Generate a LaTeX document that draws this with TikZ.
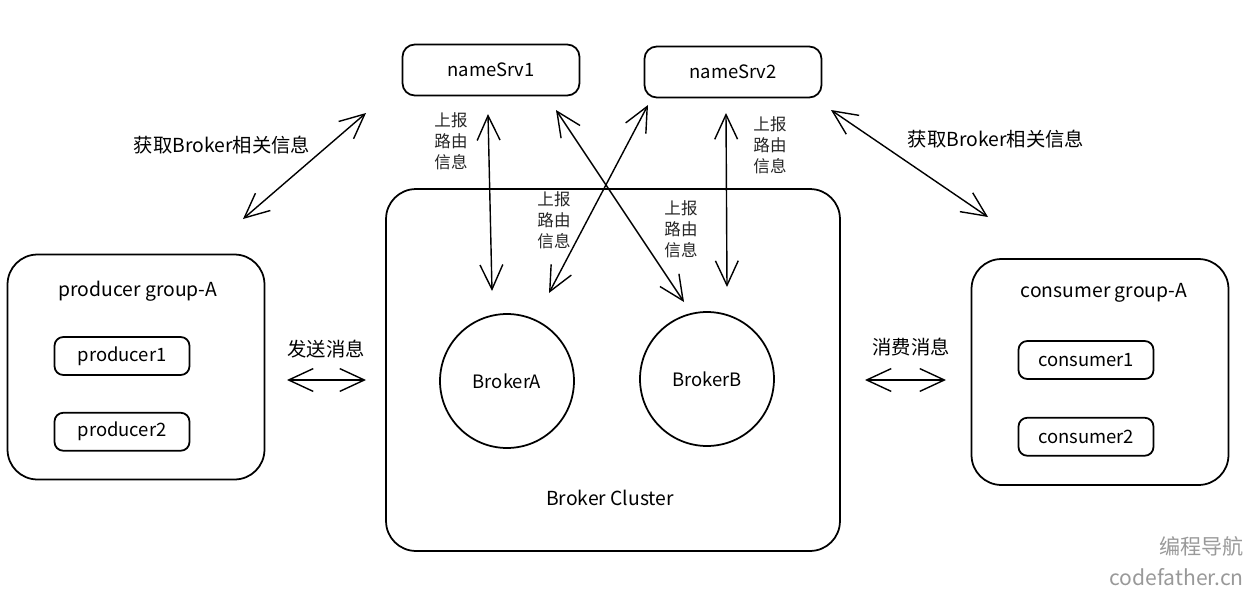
\documentclass[tikz,border=0pt]{standalone}
\usepackage{fontspec}
\setmainfont{Noto Sans CJK SC}
\usepackage{tikz}
\usetikzlibrary{arrows.meta}
\usetikzlibrary{positioning}
\tikzset{>={Straight Barb[length=14pt,width=13pt]}}
\usepackage{xcolor}
\colorlet{markgray}{black!40}
\tikzstyle{group}=[draw,line width=1pt,rounded corners=17pt]
\def\txt{\fontsize{10.5}{12}\selectfont}
\def\bigtxt{\fontsize{11}{13}\selectfont}
\def\smalltxt{\fontsize{9.4}{12}\selectfont}

\begin{document}
\begin{tikzpicture}[x=0.02cm,y=-0.02cm,
	srv/.style={draw, line width=1pt, rounded corners=7pt, minimum width=3.54cm, minimum height=1.02cm, font=\txt},
	member/.style={draw, line width=1pt, rounded corners=5pt, minimum width=2.7cm, minimum height=0.76cm, font=\txt},
	broker/.style={circle, draw, line width=1pt, minimum size=2.68cm, font=\txt},
	link/.style={<->, line width=0.8pt},
	note/.style={font=\smalltxt, align=center, inner sep=0pt, text=black!85},
	]
	\useasboundingbox (0,0) rectangle (1259,599);
	
	% name servers
	\node[srv] (ns1) at (491,70) {nameSrv1};
	\node[srv] (ns2) at (733,72) {nameSrv2};
	
	% broker cluster
	\node[group, minimum width=9.08cm, minimum height=7.24cm] (cluster) at (613,370) {};
	\node[font=\bigtxt] (clusterlbl) at (610,498) {Broker Cluster};
	\node[broker] (brokerA) at (507,381) {BrokerA};
	\node[broker] (brokerB) at (707,379) {BrokerB};
	
	% producers
	\node[group, minimum width=5.14cm, minimum height=4.5cm] (pgroup) at (136,367) {};
	\node[font=\bigtxt] (plbl) at (138,291) {producer group-A};
	\node[member] (p1) at (122,356) {producer1};
	\node[member, below=0.72cm of p1] (p2) {producer2};
	
	% consumers
	\node[group, minimum width=5.14cm, minimum height=4.52cm] (cgroup) at (1100,372) {};
	\node[font=\bigtxt] (clbl) at (1104,293) {consumer group-A};
	\node[member] (c1) at (1086,360) {consumer1};
	\node[member, below=0.74cm of c1] (c2) {consumer2};
	
	% arrow ends
	\coordinate (sendL) at (287,380);
	\coordinate (sendR) at (366,380);
	\coordinate (consL) at (865,380);
	\coordinate (consR) at (946,380);
	\coordinate (infoP) at (243,219);
	\coordinate (infoN1) at (366,113);
	\coordinate (infoN2) at (831,110);
	\coordinate (infoC) at (988,217);
	\coordinate (up1s) at (488,114);
	\coordinate (up1b) at (492,291);
	\coordinate (up2s) at (556,110);
	\coordinate (up2b) at (684,302);
	\coordinate (up3s) at (648,105);
	\coordinate (up3b) at (549,293);
	\coordinate (up4s) at (726,113);
	\coordinate (up4b) at (727,287);
	
	\draw[link] (sendL) -- (sendR);
	\draw[link] (consL) -- (consR);
	\draw[link] (infoP) -- (infoN1);
	\draw[link] (infoN2) -- (infoC);
	\draw[link] (up1s) -- (up1b);
	\draw[link] (up2s) -- (up2b);
	\draw[link] (up3s) -- (up3b);
	\draw[link] (up4s) -- (up4b);
	
	% labels
	\node[font=\bigtxt] (sendlbl) at (326,349) {发送消息};
	\node[font=\bigtxt] (conslbl) at (911,347) {消费消息};
	\node[font=\bigtxt] (infolblL) at (222,145) {获取Broker相关信息};
	\node[font=\bigtxt] (infolblR) at (996,139) {获取Broker相关信息};
	\node[note] (rep1) at (451,141) {上报\\路由\\信息};
	\node[note] (rep2) at (554,220) {上报\\路由\\信息};
	\node[note] (rep3) at (681,229) {上报\\路由\\信息};
	\node[note] (rep4) at (770,145) {上报\\路由\\信息};
	
	% watermark
	\node[font=\fontsize{12}{14}\selectfont, text=markgray, anchor=east] (wm1) at (1250,546) {编程导航};
	\node[font=\fontsize{12}{14}\selectfont, text=markgray, anchor=east] (wm2) at (1250,577) {codefather.cn};
	
\end{tikzpicture}
\end{document}
